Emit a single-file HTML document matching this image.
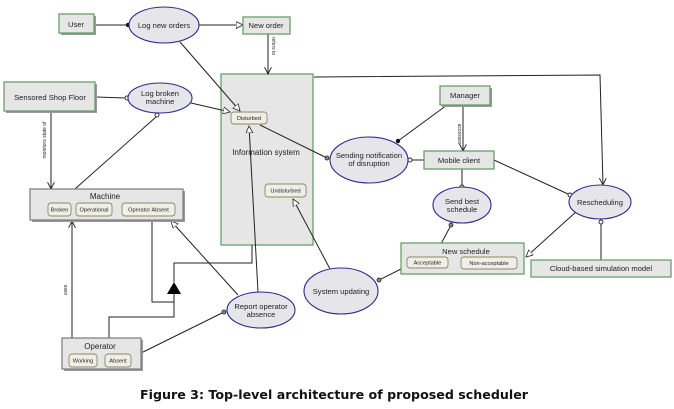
<!DOCTYPE html>
<html><head><meta charset="utf-8"><style>
html,body{margin:0;padding:0;background:#fff;}
svg{display:block;}
text{font-family:"Liberation Sans",Arial,sans-serif;fill:#222;}
.t{font-size:7.6px;text-anchor:middle;}
.s{font-size:5.6px;text-anchor:middle;}
.l{font-size:5px;text-anchor:middle;}
</style></head><body>
<svg width="674" height="409" viewBox="0 0 674 409" xmlns="http://www.w3.org/2000/svg">
<defs>
<marker id="oa" markerWidth="10" markerHeight="10" refX="7" refY="3.5" orient="auto" markerUnits="userSpaceOnUse">
<path d="M0,0 L7,3.5 L0,7 Z" fill="#fff" stroke="#222" stroke-width="0.8"/>
</marker>
<marker id="va" markerWidth="10" markerHeight="10" refX="7" refY="3.5" orient="auto" markerUnits="userSpaceOnUse">
<path d="M0,0 L7,3.5 L0,7" fill="none" stroke="#222" stroke-width="0.9"/>
</marker>
</defs>
<!-- info system box drawn first so lines pass over -->
<rect x="221" y="74" width="92" height="171" fill="#e6e6e6" stroke="#5d9a5d" stroke-width="1.2"/>
<g stroke="#222" stroke-width="1" fill="none">
<!-- connectors -->
<line x1="94" y1="25" x2="128" y2="25"/>
<line x1="199" y1="25" x2="243" y2="25" marker-end="url(#oa)"/>
<line x1="268" y1="34" x2="268" y2="74" marker-end="url(#va)"/>
<line x1="180" y1="42" x2="240" y2="111" marker-end="url(#oa)"/>
<line x1="96" y1="97" x2="126" y2="98"/>
<line x1="191" y1="103" x2="230" y2="112" marker-end="url(#oa)"/>
<line x1="156" y1="117" x2="58" y2="204"/>
<line x1="51" y1="112" x2="51" y2="189" marker-end="url(#va)"/>
<polyline points="314,77 600,75 603,185" marker-end="url(#va)"/>
<line x1="260" y1="125" x2="327" y2="158"/>
<line x1="447" y1="105" x2="398" y2="141"/>
<line x1="463" y1="105" x2="463" y2="151" marker-end="url(#va)"/>
<line x1="412" y1="160" x2="424" y2="160"/>
<line x1="462" y1="169" x2="462" y2="185"/>
<line x1="494" y1="160" x2="568" y2="194"/>
<line x1="450" y1="227" x2="434" y2="257"/>
<line x1="577" y1="211" x2="526" y2="257" marker-end="url(#oa)"/>
<line x1="601" y1="224" x2="601" y2="260"/>
<line x1="407" y1="266" x2="381" y2="279"/>
<line x1="330" y1="269" x2="293" y2="199" marker-end="url(#oa)"/>
<line x1="258" y1="292" x2="249" y2="126" marker-end="url(#oa)"/>
<line x1="238" y1="295" x2="171" y2="221" marker-end="url(#oa)"/>
<line x1="131" y1="358" x2="222" y2="313"/>
<line x1="72" y1="338" x2="72" y2="221" marker-end="url(#va)"/>
<polyline points="152,220 152,302 174,302"/>
<polyline points="109,338 109,317 174,317 174,294"/>
<polyline points="174,282 174,263 252,263 252,245"/>
</g>
<polygon points="167,294 181,294 174,282" fill="#000"/>
<!-- dots / circles -->
<circle cx="128" cy="25" r="2.2" fill="#111"/>
<circle cx="398" cy="141" r="2.2" fill="#111"/>
<g fill="#fff" stroke="#222" stroke-width="0.9">
<circle cx="127" cy="98" r="2"/>
<circle cx="157" cy="115" r="2"/>
<circle cx="410" cy="160" r="2"/>
<circle cx="462" cy="187" r="2"/>
<circle cx="570" cy="195" r="2"/>
<circle cx="601" cy="222" r="2"/>
</g>
<g fill="#888" stroke="#222" stroke-width="0.8">
<circle cx="327" cy="158" r="2"/>
<circle cx="451" cy="225" r="2"/>
<circle cx="379" cy="280" r="2"/>
<circle cx="224" cy="312" r="2"/>
</g>
<!-- shadows -->
<g fill="#9a9a9a">
<rect x="61" y="16" width="35" height="19"/>
<rect x="6" y="84" width="91" height="29"/>
<rect x="442" y="88" width="50" height="19"/>
<rect x="32" y="191" width="153" height="31"/>
<rect x="64" y="340" width="79" height="31"/>
</g>
<!-- boxes -->
<g fill="#e6e6e6" stroke="#5d9a5d" stroke-width="1.2">
<rect x="59" y="14" width="35" height="19"/>
<rect x="243" y="17" width="47" height="17"/>
<rect x="4" y="82" width="91" height="29"/>
<rect x="440" y="86" width="50" height="19"/>
<rect x="424" y="151" width="70" height="18"/>
<rect x="401" y="243" width="123" height="31"/>
<rect x="531" y="260" width="140" height="17"/>
</g>
<g fill="#e6e6e6" stroke="#7a7a7a" stroke-width="1.2">
<rect x="30" y="189" width="153" height="31"/>
<rect x="62" y="338" width="79" height="31"/>
</g>
<!-- ellipses -->
<g fill="#e6e6ea" stroke="#2b2b8c" stroke-width="1.1">
<ellipse cx="164" cy="25" rx="35" ry="18"/>
<ellipse cx="160" cy="98" rx="32" ry="15"/>
<ellipse cx="369" cy="160" rx="39" ry="23"/>
<ellipse cx="462" cy="205" rx="29" ry="18"/>
<ellipse cx="600" cy="202" rx="31" ry="17"/>
<ellipse cx="341" cy="291" rx="37" ry="23"/>
<ellipse cx="261" cy="310" rx="34" ry="18"/>
</g>
<!-- states -->
<g fill="#efefe8" stroke="#8a8a64" stroke-width="0.9">
<rect x="231" y="112" width="36" height="12" rx="3"/>
<rect x="265" y="184" width="41" height="13" rx="3"/>
<rect x="48" y="203" width="23" height="13" rx="3"/>
<rect x="76" y="203" width="36" height="13" rx="3"/>
<rect x="122" y="203" width="53" height="13" rx="3"/>
<rect x="407" y="257" width="41" height="11" rx="3"/>
<rect x="461" y="257" width="56" height="12" rx="3"/>
<rect x="69" y="354" width="28" height="13" rx="3"/>
<rect x="105" y="354" width="26" height="13" rx="3"/>
</g>
<!-- labels -->
<text class="t" x="76" y="27">User</text>
<text class="t" x="164" y="28">Log new orders</text>
<text class="t" x="266" y="28">New order</text>
<text class="t" x="50" y="100">Sensored Shop Floor</text>
<text class="t" x="160" y="96">Log broken</text>
<text class="t" x="160" y="104">machine</text>
<text class="s" x="249" y="120">Disturbed</text>
<text class="t" x="266" y="155" style="font-size:8px">Information system</text>
<text class="s" x="285.5" y="192.5">Undisturbed</text>
<text class="t" x="105" y="199" style="font-size:8px">Machine</text>
<text class="s" x="59.5" y="211.5">Broken</text>
<text class="s" x="94" y="211.5">Operational</text>
<text class="s" x="148.5" y="211.5">Operator Absent</text>
<text class="t" x="465" y="98">Manager</text>
<text class="t" x="369" y="158">Sending notification</text>
<text class="t" x="369" y="166">of disruption</text>
<text class="t" x="459" y="163">Mobile client</text>
<text class="t" x="462" y="204">Send best</text>
<text class="t" x="462" y="212">schedule</text>
<text class="t" x="600" y="205">Rescheduling</text>
<text class="t" x="466" y="254">New schedule</text>
<text class="s" x="427.5" y="264.5">Acceptable</text>
<text class="s" x="489" y="265">Non-acceptable</text>
<text class="t" x="601" y="271">Cloud-based simulation model</text>
<text class="t" x="341" y="294">System updating</text>
<text class="t" x="261" y="309">Report operator</text>
<text class="t" x="261" y="317">absence</text>
<text class="t" x="100" y="349" style="font-size:8px">Operator</text>
<text class="s" x="83" y="362.5">Working</text>
<text class="s" x="118" y="362.5">Absent</text>
<!-- rotated connector labels -->
<text class="l" transform="translate(46,140) rotate(-90)">monitors state of</text>
<text class="l" transform="translate(272,46) rotate(90)">refers to</text>
<text class="l" transform="translate(458,134) rotate(90)">accesses</text>
<text class="l" transform="translate(67,290) rotate(-90)">uses</text>
<!-- caption -->
<text x="140" y="399" textLength="388" lengthAdjust="spacingAndGlyphs" style="font-family:'DejaVu Sans','Liberation Sans',sans-serif;font-weight:bold;font-size:12.5px;fill:#111">Figure 3: Top-level architecture of proposed scheduler</text>
</svg>
</body></html>
